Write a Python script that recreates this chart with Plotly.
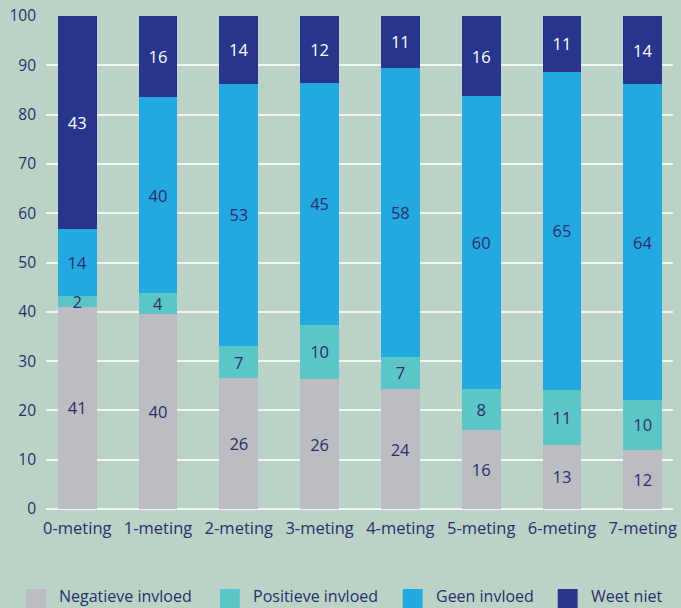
import plotly.graph_objects as go

categories = ["0-meting", "1-meting", "2-meting", "3-meting", "4-meting", "5-meting", "6-meting", "7-meting"]

# Bar heights as drawn in the picture
negatief = [41, 39.5, 26.5, 26.3, 24.3, 16, 13, 12]
positief = [2.2, 4.3, 6.6, 11.1, 6.6, 8.3, 11.1, 10.1]
geen = [13.6, 39.7, 53.2, 49.1, 58.6, 59.4, 64.6, 64.1]
weetniet = [43.2, 16.5, 13.7, 13.5, 10.5, 16.3, 11.3, 13.8]

# Printed labels
lab_negatief = [41, 40, 26, 26, 24, 16, 13, 12]
lab_positief = [2, 4, 7, 10, 7, 8, 11, 10]
lab_geen = [14, 40, 53, 45, 58, 60, 65, 64]
lab_weetniet = [43, 16, 14, 12, 11, 16, 11, 14]

series_names = ["Negatieve invloed", "Positieve invloed", "Geen invloed", "Weet niet"]
colors = ["#bcbdc2", "#5cc5c8", "#23a8e0", "#28358c"]
text_colors = ["#2b2e6b", "#2b2e6b", "#2b2e6b", "#ffffff"]
navy = "#2b2e6b"
bg = "#bad3c6"
FONT = "Open Sans"

fig = go.Figure()
for vals, labs, name, col, tcol in zip(
    [negatief, positief, geen, weetniet],
    [lab_negatief, lab_positief, lab_geen, lab_weetniet],
    series_names, colors, text_colors,
):
    fig.add_trace(go.Bar(
        x=list(range(len(categories))), y=vals, name=name,
        marker=dict(color=col, line=dict(width=0)),
        width=0.48,
        text=[str(v) for v in labs], texttemplate="%{text}",
        textposition="inside", insidetextanchor="middle",
        constraintext="none", textangle=0,
        textfont=dict(color=tcol, size=16.5, family=FONT),
        showlegend=False, hoverinfo="skip",
    ))

# Manual legend at the bottom
legend_sq = [26, 221, 405, 561]
for i, (name, col) in enumerate(zip(series_names, colors)):
    x0 = legend_sq[i]
    fig.add_shape(type="rect", xref="paper", yref="paper",
                  x0=(x0 - 46) / 631, x1=(x0 + 20 - 46) / 631,
                  y0=-(608 - 509 + 2) / 493, y1=-(589 - 509) / 493,
                  fillcolor=col, line=dict(width=0), layer="above")
    fig.add_annotation(xref="paper", yref="paper",
                       x=(x0 + 31 - 46) / 631, y=-(596 - 509) / 493,
                       text=name, showarrow=False, xanchor="left", yanchor="middle",
                       font=dict(size=16, color=navy, family=FONT))

fig.update_layout(
    width=681, height=608,
    margin=dict(l=46, r=4, t=16, b=99),
    barmode="stack",
    paper_bgcolor=bg, plot_bgcolor=bg,
    font=dict(family=FONT, color=navy, size=15),
    xaxis=dict(
        range=[-0.387, 7.375], tickmode="array",
        tickvals=list(range(len(categories))), ticktext=categories,
        showgrid=False, zeroline=False, showline=False, ticks="",
        ticklabelstandoff=7, ticklabeloverflow="allow",
        tickfont=dict(size=16.5, color=navy),
    ),
    yaxis=dict(
        range=[0, 100], dtick=10, tick0=0,
        showgrid=True, gridcolor="#f2f6f4", gridwidth=1.6,
        zeroline=True, zerolinecolor="#f2f6f4", zerolinewidth=1.6,
        showline=False, ticks="", ticklabelstandoff=9,
        tickfont=dict(size=15.5, color=navy),
    ),
    showlegend=False,
)

fig.write_html("out.html")
